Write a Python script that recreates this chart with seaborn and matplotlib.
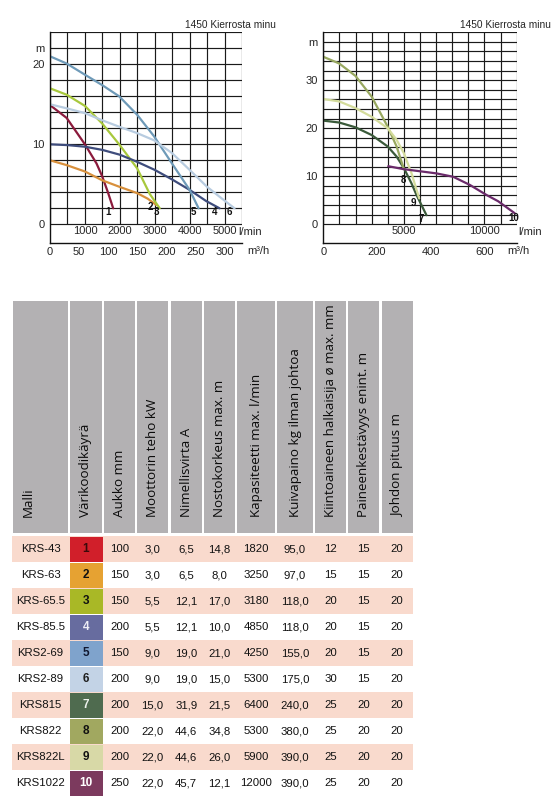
import matplotlib.pyplot as plt
import seaborn as sns
from matplotlib.patches import Rectangle

W, H = 558, 798

# Pump curves, left chart (flow l/min, head m)
q1 = [0, 476, 1000, 1333, 1495, 1667, 1810]
h1 = [14.9, 13.3, 10.0, 7.6, 6.0, 3.9, 2.0]
q2 = [0, 476, 1000, 1495, 1981, 2495, 2800, 3050]
h2 = [8.0, 7.4, 6.6, 5.5, 4.7, 3.9, 3.2, 2.4]
q3 = [0, 476, 1000, 1495, 1981, 2495, 2857, 3143]
h3 = [17.0, 16.2, 14.8, 12.6, 10.0, 7.0, 3.8, 2.0]
q4 = [0, 500, 1000, 1500, 2000, 2500, 3000, 3500, 4000, 4476, 4857]
h4 = [10.0, 9.9, 9.7, 9.3, 8.7, 7.8, 6.8, 5.6, 4.3, 2.9, 2.0]
q5 = [0, 476, 1000, 1495, 1981, 2495, 2981, 3495, 4000, 4257]
h5 = [21.0, 20.1, 18.7, 17.4, 16.0, 13.7, 11.0, 7.6, 4.3, 2.0]
q6 = [0, 476, 1000, 1495, 1981, 2495, 2981, 3495, 4000, 4495, 4900, 5286]
h6 = [15.0, 14.5, 13.9, 13.0, 12.2, 11.4, 10.5, 8.9, 6.8, 4.7, 3.3, 2.0]

# Pump curves, right chart
q7 = [0, 990, 2000, 3000, 4000, 4550, 5000, 5475, 5785, 6400]
h7 = [21.6, 21.2, 20.2, 18.6, 16.2, 14.1, 11.7, 8.5, 6.1, 1.9]
q8 = [0, 990, 2000, 3000, 4000, 4550, 5000]
h8 = [34.9, 33.5, 30.9, 26.6, 20.3, 16.2, 11.5]
q9 = [0, 990, 2000, 3000, 4000, 4550, 5000, 5475, 5785, 5950]
h9 = [26.1, 25.6, 24.2, 22.4, 20.0, 17.6, 14.8, 10.6, 7.2, 5.4]
q10 = [4030, 4960, 7030, 8060, 9095, 10130, 10850, 11880]
h10 = [12.1, 11.5, 10.6, 9.9, 8.2, 6.1, 4.8, 2.3]

curve_colors = {1: "#8b1a3c", 2: "#d8903c", 3: "#a8c83c", 4: "#3e4c7c", 5: "#6e9ab8",
                6: "#b8cce0", 7: "#3a5a3a", 8: "#98a860", 9: "#d4dc9c", 10: "#6a2a6a"}

# Table
headers = ["Malli", "Värikoodikäyrä", "Aukko mm", "Moottorin teho kW", "Nimellisvirta A",
           "Nostokorkeus max. m", "Kapasiteetti max. l/min", "Kuivapaino kg ilman johtoa",
           "Kiintoaineen halkaisija ø max. mm", "Paineenkestävyys enint. m", "Johdon pituus m"]
malli = ["KRS-43", "KRS-63", "KRS-65.5", "KRS-85.5", "KRS2-69", "KRS2-89",
         "KRS815", "KRS822", "KRS822L", "KRS1022"]
koodi = [1, 2, 3, 4, 5, 6, 7, 8, 9, 10]
aukko = [100, 150, 150, 200, 150, 200, 200, 200, 200, 250]
teho = [3.0, 3.0, 5.5, 5.5, 9.0, 9.0, 15.0, 22.0, 22.0, 22.0]
virta = [6.5, 6.5, 12.1, 12.1, 19.0, 19.0, 31.9, 44.6, 44.6, 45.7]
nosto = [14.8, 8.0, 17.0, 10.0, 21.0, 15.0, 21.5, 34.8, 26.0, 12.1]
kapasiteetti = [1820, 3250, 3180, 4850, 4250, 5300, 6400, 5300, 5900, 12000]
paino = [95.0, 97.0, 118.0, 118.0, 155.0, 175.0, 240.0, 380.0, 390.0, 390.0]
kiinto = [12, 15, 20, 20, 20, 30, 25, 25, 25, 25]
paine = [15, 15, 15, 15, 15, 15, 20, 20, 20, 20]
johto = [20, 20, 20, 20, 20, 20, 20, 20, 20, 20]

cell_colors = ["#d11f2a", "#e6a232", "#a9b826", "#676c9f", "#7fa3cc",
               "#c3d3e6", "#4f6b4f", "#a1a860", "#d8d9a7", "#7c3a5e"]
cell_text_colors = ["#3a0a0a", "#111111", "#111111", "#eeeef6", "#101830",
                    "#202020", "#eef2ee", "#111111", "#111111", "#ffffff"]

sns.set_style("white")
plt.rcParams["font.family"] = ["Liberation Sans", "DejaVu Sans"]

fig = plt.figure(figsize=(W / 100, H / 100), dpi=100)


def px_axes(x0, y0, x1, y1):
    return fig.add_axes([x0 / W, 1 - y1 / H, (x1 - x0) / W, (y1 - y0) / H])


def fmt(v):
    return f"{v:.1f}".replace(".", ",")


# table drawn in pixel space
tab = px_axes(0, 0, W, H)
tab.set_xlim(0, W)
tab.set_ylim(H, 0)
tab.axis("off")

col_edges = [(12.7, 68.3), (70, 101.7), (104, 135), (136.7, 168.3), (170.7, 201.7),
             (204, 235), (237.3, 275), (277.3, 312.7), (315, 346), (348.3, 379.3),
             (381.7, 412.7)]
for i, (x0, x1) in enumerate(col_edges):
    tab.add_patch(Rectangle((x0, 300.7), x1 - x0, 232.6, color="#b3b1b3", lw=0))
    tx = 28.5 if i == 0 else (x0 + x1) / 2
    tab.text(tx, 517, headers[i], rotation=90, rotation_mode="anchor", ha="left",
             va="center", fontsize=9.6, color="#0a0a0a", family=["Open Sans", "DejaVu Sans"])

row_top, row_h = 536, 26
columns = [malli, None, aukko, [fmt(v) for v in teho], [fmt(v) for v in virta],
           [fmt(v) for v in nosto], kapasiteetti, [fmt(v) for v in paino], kiinto, paine, johto]
for r in range(len(malli)):
    y0 = row_top + r * row_h
    if r % 2 == 0:
        tab.add_patch(Rectangle((12, y0), 401.3, row_h, color="#f9dacd", lw=0))
    tab.add_patch(Rectangle((69.5, y0 + 0.5), 33, row_h - 1, color=cell_colors[r], lw=0))
    yc = y0 + row_h / 2
    tab.text(86, yc, str(koodi[r]), ha="center", va="center", fontsize=8.5,
             fontweight="bold", color=cell_text_colors[r])
    for c, vals in enumerate(columns):
        if vals is None:
            continue
        x0, x1 = col_edges[c]
        tab.text((x0 + x1) / 2, yc, str(vals[r]), ha="center", va="center",
                 fontsize=8.2, color="#111111")


def draw_chart(ax, curves, xmax, ymax, ybottom, xstep, xticks, yticks, m3h_ticks, m_pos, offsets):
    ax.vlines(list(range(0, xmax + 1, xstep)), 0, ymax, color="#1a1a1a", lw=0.85)
    ax.hlines(list(range(0, ymax + 1, 2)), 0, xmax, color="#1a1a1a", lw=0.85)
    for num, (q, h) in curves.items():
        sns.lineplot(x=q, y=h, ax=ax, color=curve_colors[num], lw=1.6,
                     sort=False, estimator=None)
        ax.annotate(str(num), (q[-1], h[-1]), xytext=offsets.get(num, (-3.6, -2.9)),
                    textcoords="offset points", ha="center", va="center",
                    fontsize=7, fontweight="bold", color="#111111")
    ax.set_xlim(0, xmax)
    ax.set_ylim(ybottom, ymax)
    for s in ["top", "right"]:
        ax.spines[s].set_visible(False)
    for s in ["left", "bottom"]:
        ax.spines[s].set_color("#111111")
        ax.spines[s].set_linewidth(1)
    ax.set_xticks(xticks)
    ax.set_xticklabels([str(t) for t in xticks])
    ax.tick_params(axis="x", length=0, pad=-12.8, labelsize=8)
    ax.set_yticks(yticks + [m_pos])
    ax.set_yticklabels([str(t) for t in yticks] + ["m"])
    ax.tick_params(axis="y", length=0, pad=4, labelsize=8)
    sec = ax.secondary_xaxis("bottom", functions=(lambda v: v * 0.06, lambda v: v / 0.06))
    sec.set_xticks(m3h_ticks)
    sec.tick_params(length=0, pad=2.5, labelsize=8)
    sec.spines["bottom"].set_visible(False)
    ax.set_xlabel("")
    ax.set_ylabel("")


# left chart
ax1 = px_axes(50, 32.3, 242, 243.3)
draw_chart(ax1, {1: (q1, h1), 2: (q2, h2), 3: (q3, h3), 4: (q4, h4), 5: (q5, h5), 6: (q6, h6)},
           5500, 24, -2.375, 500, [1000, 2000, 3000, 4000, 5000], [0, 10, 20],
           [0, 50, 100, 150, 200, 250, 300], 22, {2: (-4.3, -1.4), 3: (-2.4, -2.9)})
ax1.text(0.978, 0.054, "l/min", transform=ax1.transAxes, ha="left", va="center", fontsize=8)
ax1.text(1.03, -0.037, "m³/h", transform=ax1.transAxes, ha="left", va="center", fontsize=8)

# right chart
ax2 = px_axes(323.3, 32.3, 516.7, 243.3)
draw_chart(ax2, {7: (q7, h7), 8: (q8, h8), 9: (q9, h9), 10: (q10, h10)},
           12000, 40, -3.96, 1000, [5000, 10000], [0, 10, 20, 30], [0, 200, 400, 600], 38,
           {8: (0, -7.9), 9: (-4.3, -3.6), 10: (-1, -3.6)})
ax2.text(1.007, 0.054, "l/min", transform=ax2.transAxes, ha="left", va="center", fontsize=8)
ax2.text(0.95, -0.037, "m³/h", transform=ax2.transAxes, ha="left", va="center", fontsize=8)

fig.text(185 / W, 1 - 25 / H, "1450 Kierrosta minu", fontsize=7.3, va="center")
fig.text(460 / W, 1 - 25 / H, "1450 Kierrosta minu", fontsize=7.3, va="center")

fig.savefig("out.png", dpi=100)
